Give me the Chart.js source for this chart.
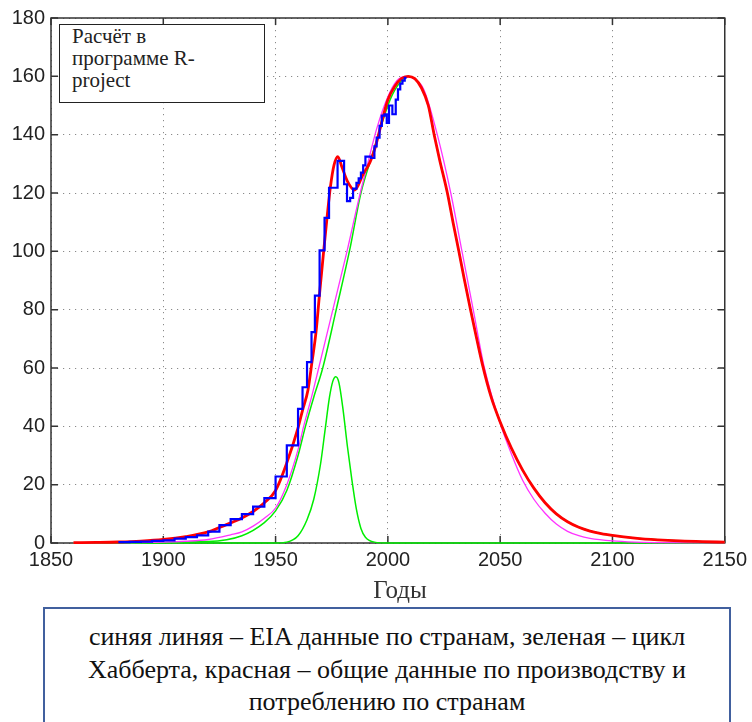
<!DOCTYPE html>
<html>
<head>
<meta charset="utf-8">
<script src="https://cdn.jsdelivr.net/npm/chart.js@4.4.1/dist/chart.umd.min.js"></script>
<style>
  body { margin: 0; background: #fff; }
  #wrap { position: relative; width: 752px; height: 722px; overflow: hidden; background: #fff; }
  #chart { position: absolute; left: 0; top: 0; }
  #note {
    position: absolute; left: 59px; top: 24px; width: 192px; height: 77px;
    border: 1.5px solid #222; background: #fff;
    padding: 0 0 0 12px;
    font: 21px "Liberation Serif", "Times New Roman", serif; line-height: 22px; color: #222;
  }
  #xtitle {
    position: absolute; left: 340px; width: 120px; top: 576px; text-align: center;
    font: 25px "Liberation Serif", "Times New Roman", serif; color: #333;
  }
  #caption {
    position: absolute; left: 43px; top: 607px; width: 684px; height: 140px;
    border: 2.5px solid #41609e; background: #fff;
    text-align: center; padding-top: 12px;
    font: 26px "Liberation Serif", "Times New Roman", serif; line-height: 32.5px; color: #111;
  }
</style>
</head>
<body>
<div id="wrap">
  <canvas id="chart" width="752" height="600"></canvas>
  <div id="note">Расчёт в<br>программе R-<br>project</div>
  <div id="xtitle">Годы</div>
  <div id="caption">синяя линяя – EIA данные по странам, зеленая – цикл<br>Хабберта, красная – общие данные по производству и<br>потреблению по странам</div>
</div>
<script>
// values

var blueYears = [1880, 1885, 1890, 1895, 1900, 1905, 1910, 1915, 1920, 1925, 1930, 1935, 1940, 1945,
  1950, 1955, 1960, 1962, 1964, 1966, 1967.5, 1969.6, 1971.8, 1973.8, 1977.6, 1980.5, 1981.8, 1983.2,
  1984.5, 1986, 1987, 1988, 1989, 1990, 1992.5, 1994, 1995, 1996.3, 1997.3, 1998.5, 1999.5, 2000.5,
  2002, 2003.5, 2004.5, 2005.5, 2006.5, 2007.5, 2008.3];
var blueValues = [0.3, 0.4, 0.5, 0.7, 0.9, 1.5, 2.0, 2.6, 3.9, 6.1, 8.2, 9.9, 12.5, 15.4,
  22.8, 33.5, 46, 53.4, 62, 72.3, 84.8, 100.3, 111.5, 121.8, 131, 123, 117.2, 118.3,
  121.5, 123.5, 125, 127, 129.5, 132.5, 132, 136, 139, 143, 146.5, 147, 144, 150,
  147, 152, 155.5, 157.5, 158.5, 159.5, 159.5];

var redYears = [1860, 1870, 1880, 1890, 1900, 1910, 1920, 1925, 1930, 1935, 1940, 1945, 1950, 1955,
  1960, 1962, 1964.4, 1966.2, 1968, 1969.5, 1971.4, 1972.9, 1974.4, 1976, 1977.7, 1979.5, 1982, 1985.2,
  1989, 1992, 1994.5, 1997, 2000, 2003, 2006, 2009, 2012, 2015, 2018, 2020.6, 2023, 2026.5, 2029,
  2031.6, 2034, 2036.8, 2039, 2042, 2046, 2050, 2055, 2060, 2065, 2070, 2075, 2080, 2085, 2090,
  2095, 2100, 2110, 2120, 2130, 2140, 2150];
var redValues = [0.1, 0.2, 0.35, 0.65, 1.2, 2.2, 3.8, 5.3, 6.9, 8.6, 10.8, 13.8, 18, 27.5,
  39.5, 45.5, 52.4, 62, 72.3, 84.8, 100, 111.5, 122, 129.5, 132.5, 129, 124, 121,
  126.5, 130.5, 136, 143.5, 152, 156.5, 159.2, 160, 159.2, 156, 150, 140, 131.5, 120, 110,
  100, 90.5, 80, 72, 61.5, 50, 41.5, 32.5, 25, 18.8, 13.8, 10, 7.3, 5.4, 4.1,
  3.2, 2.6, 1.7, 1.1, 0.7, 0.45, 0.3];

var magentaYears = [1860, 1880, 1900, 1910, 1920, 1930, 1935, 1940, 1945, 1950, 1955, 1960, 1962.5,
  1966, 1969.2, 1975.5, 1981.8, 1987.7, 1991, 1995, 2000, 2004, 2008, 2012, 2016, 2022, 2028, 2033,
  2038, 2043, 2050, 2055, 2060, 2065, 2070, 2075, 2080, 2085, 2090, 2100, 2110, 2120, 2150];
var magentaValues = [0.05, 0.15, 0.3, 0.6, 1.2, 2.8, 3.8, 5.8, 8.5, 12, 20, 32, 40,
  50, 60, 80, 100, 120, 130, 142, 153, 158.5, 160, 159, 155.5, 140, 120, 100,
  80, 60, 41, 30.5, 21.5, 15, 10.2, 6.5, 4, 2.5, 1.6, 0.7, 0.3, 0.15, 0.05];

var greenYears = [1860, 1920, 1935, 1945, 1950, 1955, 1960, 1963.3, 1967, 1971, 1977, 1983, 1988,
  1993, 1997, 2001, 2005, 2009, 2012, 2015, 2018, 2020.6, 2023, 2026.5, 2029, 2031.6, 2034, 2036.8,
  2039, 2042, 2046, 2050, 2055, 2060, 2065, 2070, 2075, 2080, 2085, 2090, 2095, 2100, 2110, 2120,
  2130, 2140, 2150];
var greenValues = [0, 0.5, 2.5, 7, 11, 18, 30, 40, 50, 60, 80, 100.5, 120,
  133, 143, 152, 157.5, 160, 159.2, 156, 150, 140, 131.5, 120, 110, 100, 90.5, 80,
  72, 61.5, 50, 41.5, 32.5, 25, 18.8, 13.8, 10, 7.3, 5.4, 4.1, 3.2, 2.6, 1.7, 1.1,
  0.7, 0.45, 0.3];

var smallYears = [1860, 1950, 1955, 1960, 1964, 1967, 1970, 1972, 1974, 1975.5, 1976.8, 1978.2, 1980,
  1982, 1984, 1986, 1988, 1990, 1994, 2000, 2150];
var smallValues = [0, 0, 0.3, 2.5, 8, 15, 27, 38.5, 50, 55.5, 57, 55, 46,
  33, 21.5, 11.5, 5, 2, 0.3, 0, 0];

var xTicks = [1850, 1900, 1950, 2000, 2050, 2100, 2150];
var yTicks = [0, 20, 40, 60, 80, 100, 120, 140, 160, 180];

function pts(xs, ys) {
  var out = [];
  for (var i = 0; i < xs.length; i++) out.push({x: xs[i], y: ys[i]});
  return out;
}

function curve(xs, ys, color, width) {
  return {
    data: pts(xs, ys),
    borderColor: color,
    borderWidth: width,
    pointRadius: 0,
    cubicInterpolationMode: 'monotone',
    fill: false,
    clip: false
  };
}

// box round the plot with ticks pointing inside
var frame = {
  id: 'frame',
  beforeDatasetsDraw: function(chart) {
    var ctx = chart.ctx, a = chart.chartArea, x = chart.scales.x, y = chart.scales.y;
    ctx.save();
    ctx.strokeStyle = '#333';
    ctx.lineWidth = 1.5;
    ctx.strokeRect(a.left, a.top, a.right - a.left, a.bottom - a.top);
    ctx.beginPath();
    xTicks.forEach(function(t) {
      var px = x.getPixelForValue(t);
      ctx.moveTo(px, a.bottom); ctx.lineTo(px, a.bottom - 7);
      ctx.moveTo(px, a.top); ctx.lineTo(px, a.top + 7);
    });
    yTicks.forEach(function(t) {
      var py = y.getPixelForValue(t);
      ctx.moveTo(a.left, py); ctx.lineTo(a.left + 7, py);
      ctx.moveTo(a.right, py); ctx.lineTo(a.right - 7, py);
    });
    ctx.stroke();
    ctx.restore();
  }
};

var blue = {
  data: pts(blueYears, blueValues),
  borderColor: '#0000ff',
  borderWidth: 2.2,
  pointRadius: 0,
  stepped: true,
  fill: false,
  clip: false
};

var tickFont = {family: '"Liberation Sans", Arial, sans-serif', size: 20};

new Chart(document.getElementById('chart'), {
  type: 'line',
  data: {
    datasets: [
      blue,
      curve(redYears, redValues, '#ff0000', 2.8),
      curve(magentaYears, magentaValues, '#ff33ff', 1.3),
      curve(greenYears, greenValues, '#00ee00', 1.5),
      curve(smallYears, smallValues, '#00ee00', 1.5)
    ]
  },
  options: {
    responsive: false,
    animation: false,
    events: [],
    layout: {padding: {left: 0, top: 16, right: 25, bottom: 0}},
    plugins: {legend: {display: false}, tooltip: {enabled: false}},
    scales: {
      x: {
        type: 'linear', min: 1850, max: 2150,
        afterBuildTicks: function(s) { s.ticks = xTicks.map(function(v) { return {value: v}; }); },
        afterFit: function(s) { s.height = 57; },
        ticks: {font: tickFont, color: '#222', padding: 5, maxRotation: 0,
          callback: function(v) { return String(v); }},
        grid: {color: '#8a8a8a', lineWidth: 1, drawTicks: false},
        border: {display: false, dash: [1.2, 4.8]}
      },
      y: {
        min: 0, max: 180,
        afterBuildTicks: function(s) { s.ticks = yTicks.map(function(v) { return {value: v}; }); },
        afterFit: function(s) { s.width = 51; },
        ticks: {font: tickFont, color: '#222', padding: 6,
          callback: function(v) { return String(v); }},
        grid: {color: '#8a8a8a', lineWidth: 1, drawTicks: false},
        border: {display: false, dash: [1.2, 4.8]}
      }
    }
  },
  plugins: [frame]
});
</script>
</body>
</html>
